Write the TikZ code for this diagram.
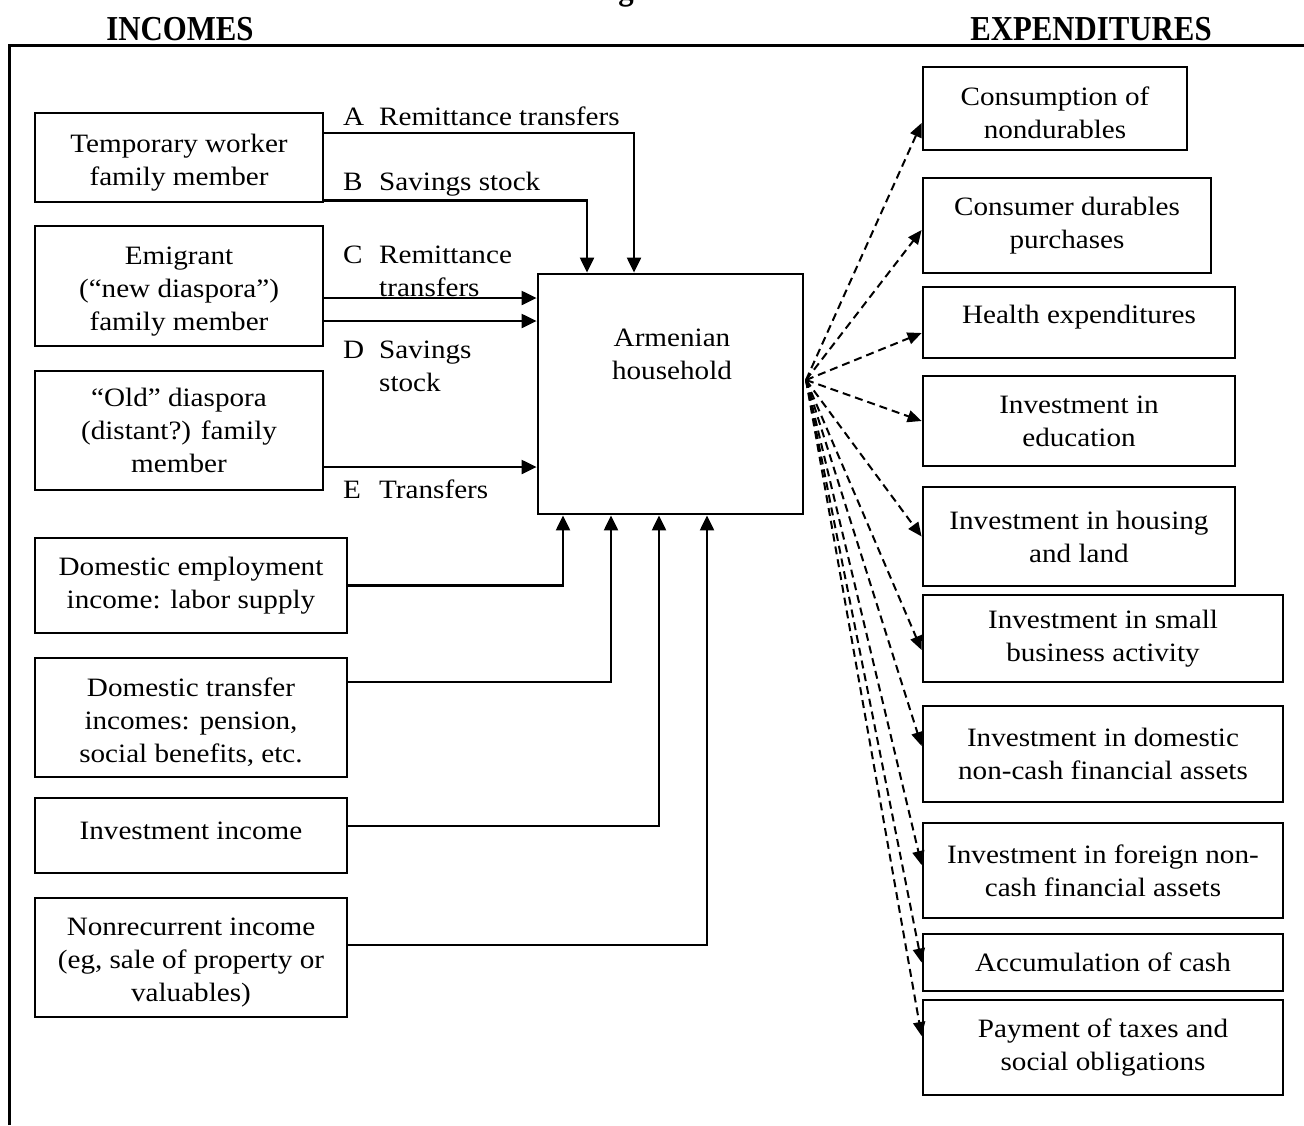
\documentclass[tikz,border=0pt]{standalone}
\usepackage{fontspec}
\setmainfont{Liberation Serif}[FakeStretch=1.1]
\newfontfamily\headfont{Liberation Serif}[FakeStretch=0.88]
\usetikzlibrary{arrows.meta}
\newcommand{\padtop}{\rule{0pt}{28pt}}

\begin{document}
\begin{tikzpicture}[x=1pt,y=-1pt]
  \useasboundingbox (0,0) rectangle (1304,1125);

  \tikzstyle{every node}=[font=\fontsize{26.5}{33}\selectfont,align=center,inner sep=0pt]
  \tikzstyle{box}=[draw,line width=2.8pt]
  \tikzstyle{head}=[font=\headfont\bfseries\fontsize{35}{38}\selectfont]
  \tikzstyle{arr}=[line width=2.2pt,-{Triangle[length=15pt,width=14pt]}]
  \tikzstyle{darr}=[line width=2pt,dash pattern=on 8pt off 5pt,-{Triangle[length=14pt,width=12pt]}]

  % headings and frame
  \node[head,anchor=base](fig) at (646,-1){Figure 1};
  \node[head,anchor=base](inc) at (180,40){INCOMES};
  \node[head,anchor=base](exp) at (1091,40){EXPENDITURES};
  \draw[line width=3pt] (9,1125) -- (9,45) -- (1304,45);

  % incomes
  \node[box,minimum width=288pt,minimum height=89pt](tw) at (179,157.5){\padtop Temporary worker\\family member};
  \node[box,minimum width=288pt,minimum height=120pt](em) at (179,286){\padtop Emigrant\\(“new diaspora”)\\family member};
  \node[box,minimum width=288pt,minimum height=119pt](od) at (179,430.5){“Old” diaspora\\(distant?) family\\member};
  \node[box,minimum width=312pt,minimum height=95pt](de) at (191,585.5){Domestic employment\\income: labor supply};
  \node[box,minimum width=312pt,minimum height=119pt](dt) at (191,717.5){\padtop Domestic transfer\\incomes: pension,\\social benefits, etc.};
  \node[box,minimum width=312pt,minimum height=75pt,text depth=10pt](ii) at (191,835.5){Investment income};
  \node[box,minimum width=312pt,minimum height=119pt](nr) at (191,957.5){\padtop Nonrecurrent income\\(eg, sale of property or\\valuables)};

  % household
  \node[box,minimum width=265pt,minimum height=240pt](hh) at (670.5,394){};
  \node(hhtxt) at (672,354){Armenian\\household};

  % expenditures
  \node[box,minimum width=264pt,minimum height=83pt](c1) at (1055,108.5){\padtop Consumption of\\nondurables};
  \node[box,minimum width=288pt,minimum height=95pt](c2) at (1067,225.5){Consumer durables\\purchases};
  \node[box,minimum width=312pt,minimum height=71pt,text depth=15.8pt](c3) at (1079,322.5){Health expenditures};
  \node[box,minimum width=312pt,minimum height=90pt](c4) at (1079,421){Investment in\\education};
  \node[box,minimum width=312pt,minimum height=99pt](c5) at (1079,536.5){Investment in housing\\and land};
  \node[box,minimum width=360pt,minimum height=87pt](c6) at (1103,638.5){Investment in small\\business activity};
  \node[box,minimum width=360pt,minimum height=96pt](c7) at (1103,754){Investment in domestic\\non-cash financial assets};
  \node[box,minimum width=360pt,minimum height=95pt](c8) at (1103,870.5){Investment in foreign non-\\cash financial assets};
  \node[box,minimum width=360pt,minimum height=57pt](c9) at (1103,962.5){Accumulation of cash};
  \node[box,minimum width=360pt,minimum height=95pt](c10) at (1103,1047.5){Payment of taxes and\\social obligations};

  % flow labels
  \node[anchor=base west](la) at (343,125){\makebox[36pt][l]{A}Remittance transfers};
  \node[anchor=base west](lb) at (343,190){\makebox[36pt][l]{B}Savings stock};
  \node[anchor=base west](lc) at (343,263){\begin{tabular}[t]{@{}l@{}}\makebox[36pt][l]{C}Remittance\\\hspace*{36pt}transfers\end{tabular}};
  \node[anchor=base west](ld) at (343,358){\begin{tabular}[t]{@{}l@{}}\makebox[36pt][l]{D}Savings\\\hspace*{36pt}stock\end{tabular}};
  \node[anchor=base west](le) at (343,498){\makebox[36pt][l]{E}Transfers};

  % flows in
  \draw[arr] ([yshift=-21pt]tw.north east) -| ([xshift=-36.5pt]hh.north);
  \draw[arr] ([yshift=3pt]tw.south east) -| ([xshift=-83.5pt]hh.north);
  \draw[arr] ([yshift=-12pt]em.east) -- ([yshift=-12pt]em.east -| hh.west);
  \draw[arr] ([yshift=-35pt]em.east) -- ([yshift=-35pt]em.east -| hh.west);
  \draw[arr] ([yshift=-36.5pt]od.east) -- ([yshift=-36.5pt]od.east -| hh.west);
  \draw[arr] (de.east) -| ([xshift=-107.5pt]hh.south);
  \draw[arr] ([yshift=35.5pt]dt.east) -| ([xshift=-59.5pt]hh.south);
  \draw[arr] ([yshift=9.5pt]ii.east) -| ([xshift=-11.5pt]hh.south);
  \draw[arr] ([yshift=12.5pt]nr.east) -| ([xshift=36.5pt]hh.south);

  % flows out
  \coordinate (fan) at (806,380);
  \draw[darr] (fan) -- ([yshift=-14.5pt]c1.west);
  \draw[darr] (fan) -- ([yshift=-4.5pt]c2.west);
  \draw[darr] (fan) -- ([yshift=-10.5pt]c3.west);
  \draw[darr] (fan) -- (c4.west);
  \draw[darr] (fan) -- (c5.west);
  \draw[darr] (fan) -- ([yshift=-11.5pt]c6.west);
  \draw[darr] (fan) -- ([yshift=8pt]c7.west);
  \draw[darr] (fan) -- ([yshift=5.5pt]c8.west);
  \draw[darr] (fan) -- (c9.west);
  \draw[darr] (fan) -- ([yshift=11.5pt]c10.west);

\end{tikzpicture}
\end{document}
